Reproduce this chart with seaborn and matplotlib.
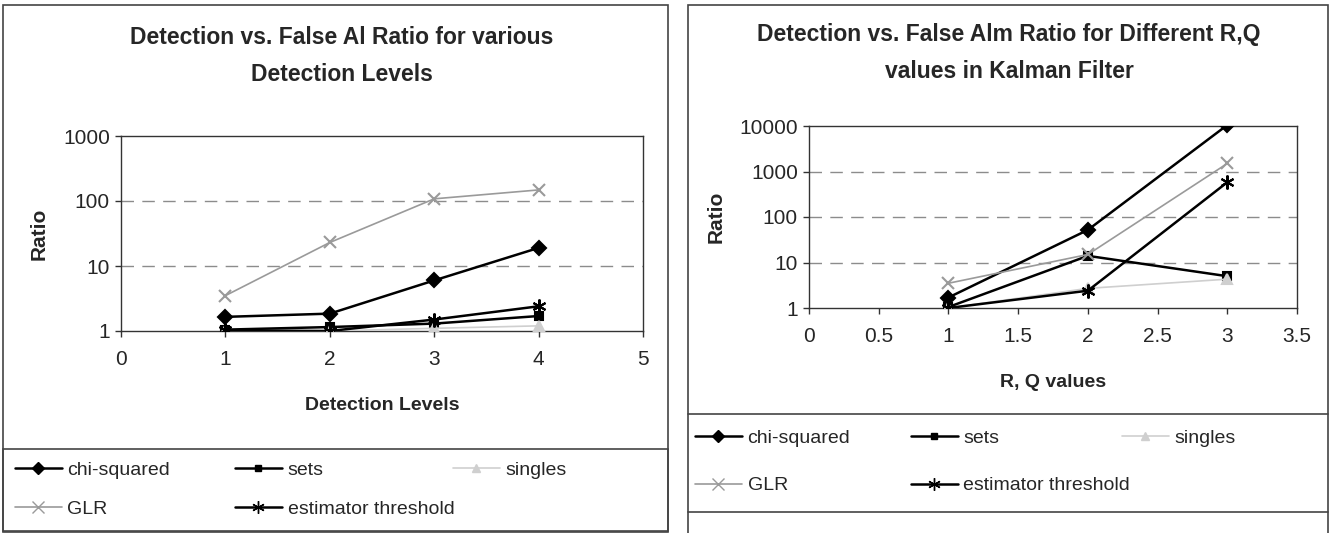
import numpy as np
import pandas as pd
import seaborn as sns
import matplotlib.pyplot as plt
from matplotlib.lines import Line2D
from matplotlib.patches import Rectangle

# data
series = ["chi-squared", "sets", "singles", "GLR", "estimator threshold"]

levels = [1, 2, 3, 4]
lv_chi = [1.65, 1.85, 6.0, 19.0]
lv_sets = [1.05, 1.15, 1.3, 1.7]
lv_singles = [1.0, 1.0, 1.1, 1.2]
lv_glr = [3.5, 23.0, 108.0, 148.0]
lv_est = [1.02, 1.0, 1.5, 2.4]

rq = [1, 2, 3]
rq_chi = [1.7, 52.0, 10500.0]
rq_sets = [1.05, 14.0, 5.0]
rq_singles = [1.0, 2.7, 4.3]
rq_glr = [3.5, 15.0, 1500.0]
rq_est = [1.0, 2.4, 580.0]

colors = {"chi-squared": "black", "sets": "black", "singles": "#cfcfcf",
          "GLR": "#9a9a9a", "estimator threshold": "black"}
markers = {"chi-squared": "D", "sets": "s", "singles": "^",
           "GLR": "x", "estimator threshold": (6, 2, 0)}
msize = {"chi-squared": 7, "sets": 6, "singles": 7, "GLR": 9, "estimator threshold": 10}
lwidth = {"chi-squared": 1.8, "sets": 1.8, "singles": 1.2, "GLR": 1.2, "estimator threshold": 1.8}

sns.set_style("white")
plt.rcParams['font.family'] = ['Liberation Sans', 'DejaVu Sans']

W, H = 1335, 533
fig = plt.figure(figsize=(W / 100, H / 100), dpi=100)


def fx(px):
    return px / W


def fy(py):
    return 1 - py / H


def long_df(x, vals):
    rows = []
    for name, v in zip(series, vals):
        for xi, yi in zip(x, v):
            rows.append({"x": xi, "y": yi, "series": name})
    return pd.DataFrame(rows)


def draw(ax, df, ymax, xmax, xstep):
    for name in series:
        d = df[df["series"] == name]
        sns.lineplot(data=d, x="x", y="y", ax=ax, color=colors[name], marker=markers[name],
                     markersize=msize[name], markeredgecolor=colors[name],
                     markeredgewidth=1.5, linewidth=lwidth[name], legend=False, zorder=3)
    ax.set_yscale("log")
    ax.set_ylim(1, ymax)
    ax.set_xlim(0, xmax)
    yt = [10 ** i for i in range(int(np.log10(ymax)) + 1)]
    ax.set_yticks(yt)
    ax.set_yticklabels([str(v) for v in yt])
    ax.minorticks_off()
    xt = np.arange(0, xmax + 0.001, xstep)
    ax.set_xticks(xt)
    ax.set_xticklabels([("%g" % v) for v in xt])
    for v in yt[1:-1]:
        ax.axhline(v, color="#8c8c8c", linestyle=(0, (9, 6)), linewidth=1.0, zorder=1)
    for s in ax.spines.values():
        s.set_visible(True)
        s.set_color("#333333")
        s.set_linewidth(1.0)
    ax.tick_params(axis="both", direction="out", length=4, width=1, color="#333333",
                   labelsize=15, bottom=True, left=True)
    ax.tick_params(axis="x", pad=10)
    ax.tick_params(axis="y", pad=4)
    ax.set_ylabel("Ratio", fontsize=15, fontweight="bold", labelpad=10)


def legend_cols(cols, rows_y, spacing):
    for x0, names in cols:
        handles = [Line2D([], [], color=colors[n], marker=markers[n], markersize=msize[n] - 1,
                          markeredgecolor=colors[n], linewidth=lwidth[n]) for n in names]
        fig.legend(handles, names, loc="upper left", bbox_to_anchor=(fx(x0), fy(rows_y)),
                   frameon=False, fontsize=14, handlelength=2.4, handletextpad=0.3,
                   borderpad=0, borderaxespad=0, labelspacing=spacing)


# left panel
ax1 = fig.add_axes([fx(121), fy(331), fx(643) - fx(121), fy(136) - fy(331)])
draw(ax1, long_df(levels, [lv_chi, lv_sets, lv_singles, lv_glr, lv_est]), 1000, 5, 1)
ax1.set_xlabel("Detection Levels", fontsize=14, fontweight="bold", labelpad=20)
fig.text(fx(342), fy(56), "Detection vs. False Al Ratio for various\nDetection Levels",
         ha="center", va="center", fontsize=16.5, fontweight="bold", linespacing=1.75)

# right panel
ax2 = fig.add_axes([fx(809), fy(308), fx(1297) - fx(809), fy(126) - fy(308)])
draw(ax2, long_df(rq, [rq_chi, rq_sets, rq_singles, rq_glr, rq_est]), 10000, 3.5, 0.5)
ax2.set_xlabel("R, Q values", fontsize=14, fontweight="bold", labelpad=20)
fig.text(fx(1009), fy(53), "Detection vs. False Alm Ratio for Different R,Q\nvalues in Kalman Filter",
         ha="center", va="center", fontsize=16.5, fontweight="bold", linespacing=1.75)

# panel frames
frame = dict(transform=fig.transFigure, fill=False, edgecolor="#444444", linewidth=1.2)
fig.patches.append(Rectangle((fx(3), fy(532)), fx(668) - fx(3), fy(5) - fy(532), **frame))
fig.patches.append(Rectangle((fx(3), fy(531)), fx(668) - fx(3), fy(449) - fy(531), **frame))
fig.patches.append(Rectangle((fx(688), fy(540)), fx(1328) - fx(688), fy(5) - fy(540), **frame))
for yy in (414, 512):
    fig.add_artist(Line2D([fx(688), fx(1328)], [fy(yy), fy(yy)], transform=fig.transFigure,
                          color="#444444", linewidth=1.2))

legend_cols([(15, ["chi-squared", "GLR"]), (235, ["sets", "estimator threshold"]),
             (453, ["singles"])], 461, 1.1)
legend_cols([(695, ["chi-squared", "GLR"]), (911, ["sets", "estimator threshold"]),
             (1122, ["singles"])], 429, 1.55)

fig.savefig("out.png", dpi=100)
